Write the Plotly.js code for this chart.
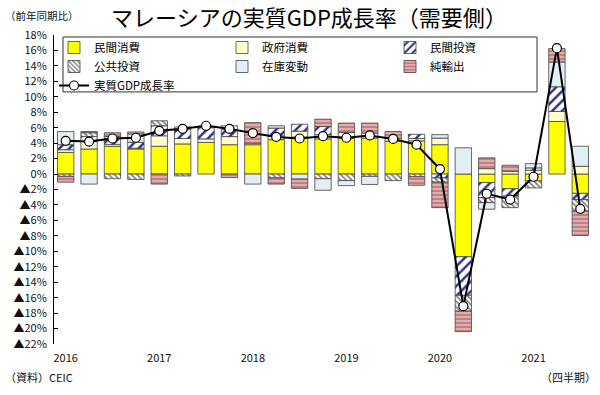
<!DOCTYPE html>
<html>
<head>
<meta charset="utf-8">
<script src="https://cdn.plot.ly/plotly-3.0.1.min.js"></script>
<style>
html,body{margin:0;padding:0;background:#fff;}
#chart{width:600px;height:395px;}
</style>
</head>
<body>
<div id="chart"></div>
<script>
// ---- data (percent, y/y contribution) ----
const quarters = ['2016Q1','2016Q2','2016Q3','2016Q4','2017Q1','2017Q2','2017Q3','2017Q4',
  '2018Q1','2018Q2','2018Q3','2018Q4','2019Q1','2019Q2','2019Q3','2019Q4',
  '2020Q1','2020Q2','2020Q3','2020Q4','2021Q1','2021Q2','2021Q3'];
const yearLabels = ['2016','2017','2018','2019','2020','2021'];
const privCons  = [2.8, 3.25, 3.6, 3.25, 3.6, 3.9, 4.1, 3.8, 3.8, 4.45, 4.8, 4.55, 4.6, 4.65, 4.25, 4.3, 3.8, -10.7, -1.1, -1.9, -0.9, 6.8, -2.5];
const govCons   = [0.35, 0.95, 0.25, 0.1, 1.35, 0.7, 0.45, 1.05, 0.2, 0.5, 0.75, 0.55, 0.8, 0.65, 0.4, 0.3, 0.85, null, 0.7, 0.36, 0.5, 1.3, 1.0];
const privInv   = [0.65, 0.65, 0.75, 0.75, 1.3, 1.2, 1.45, 0.9, null, 1.0, 0.9, 1.05, null, null, null, 0.55, -0.5, -5.0, -1.95, -0.95, 0.3, 3.2, -0.8];
const pubInv    = [-0.3, 0.5, -0.6, -0.7, 0.65, -0.25, null, null, null, -0.5, null, -0.6, -0.85, -0.3, -0.85, -0.35, -0.55, -2.05, -0.65, -1.5, -0.9, null, -1.5];
const inventory = [1.7, -1.3, 0.25, 1.1, null, 0.3, 0.2, 0.5, -1.3, 0.3, -0.65, -1.5, -0.65, -1.05, null, null, 0.45, 3.4, -0.85, null, 0.55, 3.2, 2.6];
const netExports= [-0.75, 0.15, 0.5, 0.25, -1.3, null, null, -0.45, 2.65, -0.8, -1.2, 0.95, 1.2, 1.3, 0.85, -1.1, -3.3, -2.65, 1.4, 0.78, null, 1.75, -3.15];
const gdpGrowth = [4.3, 4.2, 4.6, 4.7, 5.6, 5.85, 6.25, 5.85, 5.3, 4.8, 4.6, 4.9, 4.7, 5.0, 4.55, 3.8, 0.65, -17.1, -2.55, -3.3, -0.35, 16.3, -4.5];
const yTickVals = [18,16,14,12,10,8,6,4,2,0,-2,-4,-6,-8,-10,-12,-14,-16,-18,-20,-22];
const yTickText = yTickVals.map(v => v < 0 ? '▲' + (-v) + '%' : v + '%');

// ---- layout geometry ----
const W = 600, H = 395;
const M = {l: 54, r: 8, t: 35, b: 50.5};
const pw = W - M.l - M.r, ph = H - M.t - M.b;
const px = x => (x - M.l) / pw;
const py = y => 1 - (y - M.t) / ph;

const FONT = '"Noto Sans CJK JP", "Noto Sans", sans-serif';
const idx = quarters.map((q, i) => i);
const edge = {color: '#444', width: 0.8};
const bw = 0.7;

function bar(name, vals, marker) {
  return {type: 'bar', name: name, x: idx, y: vals, width: bw,
    marker: Object.assign({line: edge}, marker), hoverinfo: 'skip'};
}

const traces = [
  bar('民間消費', privCons, {color: '#FFFF00'}),
  bar('政府消費', govCons, {color: '#FFFFCC'}),
  bar('民間投資', privInv, {color: '#FFFFFF', pattern: {shape: '/', fgcolor: '#2E2E8A', bgcolor: '#FFFFFF', size: 7, solidity: 0.35}}),
  bar('公共投資', pubInv, {color: '#FFFFFF', pattern: {shape: '\\', fgcolor: '#7A7A80', bgcolor: '#FFFFFF', size: 4, solidity: 0.4}}),
  bar('在庫変動', inventory, {color: '#E3EEF3'}),
  bar('純輸出', netExports, {color: '#C47F80', pattern: {shape: '-', fgcolor: '#E6C3C3', bgcolor: '#C47F80', size: 4, solidity: 0.35}}),
  {type: 'scatter', mode: 'lines+markers', name: '実質GDP成長率', x: idx, y: gdpGrowth,
   line: {color: '#000', width: 2}, marker: {symbol: 'circle', size: 9, color: '#fff', line: {color: '#000', width: 1.2}},
   hoverinfo: 'skip'}
];

const layout = {
  width: W, height: H,
  margin: M,
  paper_bgcolor: '#fff', plot_bgcolor: '#fff',
  font: {family: FONT, color: '#000', size: 11},
  barmode: 'relative',
  showlegend: true,
  title: {text: 'マレーシアの実質GDP成長率（需要側）', x: 309 / W, xanchor: 'center', xref: 'container',
          y: 1 - 18 / H, yanchor: 'middle', yref: 'container', font: {size: 22, color: '#000', family: FONT}},
  xaxis: {range: [-0.5, 22.5], tickmode: 'array', tickvals: [0, 4, 8, 12, 16, 20], ticktext: yearLabels,
          showline: false, showgrid: false, zeroline: false, ticks: 'outside', ticklen: 4, tickcolor: 'rgba(0,0,0,0)',
          tickfont: {size: 11, color: '#111'}, fixedrange: true},
  xaxis2: {overlaying: 'x', anchor: 'free', position: 22 / 40, side: 'bottom', range: [-0.5, 22.5],
           tickmode: 'array', tickvals: idx.map(i => i + 0.5), showticklabels: false,
           ticks: 'inside', ticklen: 4, tickcolor: '#000', tickwidth: 1,
           showline: true, linecolor: '#000', linewidth: 1, showgrid: false, zeroline: false},
  yaxis: {range: [-22, 18], tickmode: 'array', tickvals: yTickVals, ticktext: yTickText,
          ticks: 'inside', ticklen: 4, tickcolor: '#000', showline: true, linecolor: '#000', linewidth: 1,
          showgrid: false, zeroline: false, ticklabelstandoff: 4, tickfont: {size: 11, color: '#111'}},
  legend: {orientation: 'h', x: px(54), y: py(33), xanchor: 'left', yanchor: 'top',
           borderwidth: 0, bgcolor: 'rgba(0,0,0,0)', entrywidth: 123,
           font: {size: 11.5, color: '#000', family: FONT}, traceorder: 'normal', itemwidth: 30},
  shapes: [
    {type: 'rect', xref: 'paper', yref: 'paper', x0: px(63), x1: px(537), y0: py(37), y1: py(92),
     line: {color: '#333', width: 1}, fillcolor: '#fff', layer: 'below'}
  ],
  annotations: [
    {text: '（前年同期比）', xref: 'paper', yref: 'paper', x: px(3), y: py(15), xanchor: 'left', yanchor: 'middle',
     showarrow: false, font: {size: 10.5, color: '#111'}},
    {text: '（資料）CEIC', xref: 'paper', yref: 'paper', x: px(3), y: py(378), xanchor: 'left', yanchor: 'middle',
     showarrow: false, font: {size: 11, color: '#111'}},
    {text: '（四半期）', xref: 'paper', yref: 'paper', x: px(598), y: py(378), xanchor: 'right', yanchor: 'middle',
     showarrow: false, font: {size: 11, color: '#111'}}
  ]
};

Plotly.newPlot('chart', traces, layout, {displayModeBar: false, staticPlot: true});
</script>
</body>
</html>
